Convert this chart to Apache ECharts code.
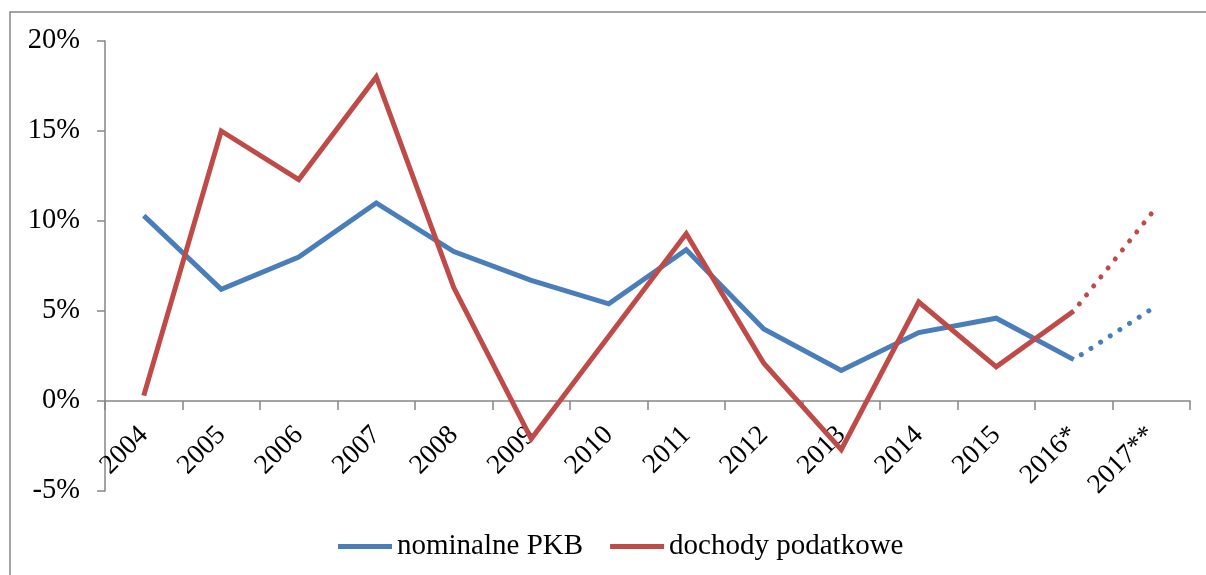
<!DOCTYPE html>
<html>
<head>
<meta charset="utf-8">
<script src="https://cdn.jsdelivr.net/npm/echarts@6/dist/echarts.min.js"></script>
<style>html,body{margin:0;padding:0;background:#fff}#c{width:1206px;height:575px}</style>
</head>
<body>
<div id="c"></div>
<script>
const categories = ['2004','2005','2006','2007','2008','2009','2010','2011','2012','2013','2014','2015','2016*','2017**'];
const gdp = [10.3, 6.2, 8.0, 11.0, 8.3, 6.7, 5.4, 8.4, 4.0, 1.7, 3.8, 4.6, 2.3, null];
const tax = [0.3, 15.0, 12.3, 18.0, 6.3, -2.1, 3.6, 9.3, 2.1, -2.7, 5.5, 1.9, 5.0, null];
const gdpForecast = [null, null, null, null, null, null, null, null, null, null, null, null, 2.3, 5.1];
const taxForecast = [null, null, null, null, null, null, null, null, null, null, null, null, 5.0, 10.4];
const yTicks = [-5, 0, 5, 10, 15, 20];

const BLUE = '#4a7ebb', RED = '#be4b48', GRAY = '#868686';
const FONT = 'Liberation Serif';

const chart = echarts.init(document.getElementById('c'), null, {renderer: 'canvas'});
chart.setOption({
  animation: false,
  backgroundColor: '#fff',
  graphic: [{
    type: 'rect', silent: true, z: -1,
    shape: {x: 10, y: 12, width: 1210, height: 600},
    style: {fill: 'none', stroke: GRAY, lineWidth: 1.5}
  }],
  grid: {left: 105, right: 16, top: 41, bottom: 84, outerBoundsMode: 'none', containLabel: false},
  legend: {
    data: ['nominalne PKB', 'dochody podatkowe'],
    left: 333, top: 527,
    icon: 'rect', itemWidth: 54, itemHeight: 5, itemGap: 27,
    textStyle: {fontFamily: FONT, fontSize: 29, color: '#000'}
  },
  xAxis: {
    type: 'category', data: categories, boundaryGap: true,
    axisLine: {onZero: true, lineStyle: {color: GRAY, width: 1.5}},
    axisTick: {show: true, length: 9, lineStyle: {color: GRAY, width: 1.5}},
    axisLabel: {rotate: 45, margin: -60, interval: 0, fontFamily: FONT, fontSize: 27.5, color: '#000'},
    splitLine: {show: false}
  },
  yAxis: {
    type: 'value', min: yTicks[0], max: yTicks[yTicks.length - 1], interval: 5,
    axisLine: {show: true, lineStyle: {color: GRAY, width: 1.5}},
    axisTick: {show: true, length: 8, lineStyle: {color: GRAY, width: 1.5}},
    axisLabel: {formatter: '{value}%', margin: 25, fontFamily: FONT, fontSize: 28.5, color: '#000'},
    splitLine: {show: false}
  },
  series: [
    {name: 'nominalne PKB', type: 'line', data: gdp, symbol: 'none', color: BLUE,
     lineStyle: {color: BLUE, width: 5, join: 'miter'}, z: 2},
    {name: 'dochody podatkowe', type: 'line', data: tax, symbol: 'none', color: RED,
     lineStyle: {color: RED, width: 5, join: 'miter'}, z: 3},
    {name: 'PKB prognoza', type: 'line', data: gdpForecast, symbol: 'none', color: BLUE,
     lineStyle: {color: BLUE, width: 5, type: [0.01, 11.5], cap: 'round', dashOffset: -9}, z: 2},
    {name: 'dochody prognoza', type: 'line', data: taxForecast, symbol: 'none', color: RED,
     lineStyle: {color: RED, width: 5, type: [0.01, 11.5], cap: 'round', dashOffset: -9}, z: 3}
  ]
});
</script>
</body>
</html>
